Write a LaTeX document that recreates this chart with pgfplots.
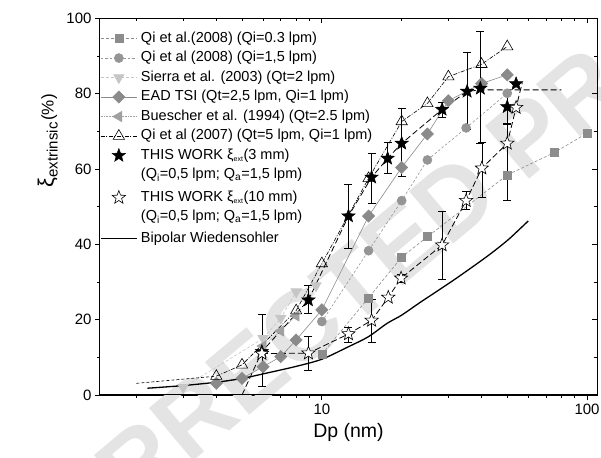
\documentclass[border=0pt]{standalone}
\usepackage{pgfplots}
\pgfplotsset{compat=1.18}
\usepackage{fontspec}
\setmainfont{Liberation Sans}
\usetikzlibrary{calc}

\definecolor{sqgray}{HTML}{8C8C8C}
\definecolor{cigray}{HTML}{959595}
\definecolor{ligray}{HTML}{C6C6C6}
\definecolor{digray}{HTML}{8A8A8A}
\definecolor{bugray}{HTML}{A0A0A0}
\definecolor{wmgray}{HTML}{E4E4E4}

% five-pointed star mark
\pgfdeclareplotmark{fivestar}{%
  \pgfpathmoveto{\pgfqpointpolar{90}{\pgfplotmarksize}}%
  \pgfpathlineto{\pgfqpointpolar{126}{0.42\pgfplotmarksize}}%
  \pgfpathlineto{\pgfqpointpolar{162}{\pgfplotmarksize}}%
  \pgfpathlineto{\pgfqpointpolar{198}{0.42\pgfplotmarksize}}%
  \pgfpathlineto{\pgfqpointpolar{234}{\pgfplotmarksize}}%
  \pgfpathlineto{\pgfqpointpolar{270}{0.42\pgfplotmarksize}}%
  \pgfpathlineto{\pgfqpointpolar{306}{\pgfplotmarksize}}%
  \pgfpathlineto{\pgfqpointpolar{342}{0.42\pgfplotmarksize}}%
  \pgfpathlineto{\pgfqpointpolar{18}{\pgfplotmarksize}}%
  \pgfpathlineto{\pgfqpointpolar{54}{0.42\pgfplotmarksize}}%
  \pgfpathclose
  \pgfusepathqfillstroke
}

\pgfplotsset{
  legimg/.style={legend image code/.code={
    \draw[mark repeat=2,mark phase=2,##1] plot coordinates {(0pt,0pt)(18pt,0pt)(36pt,0pt)};}},
  legmark/.style={legend image code/.code={
    \draw[##1] plot coordinates {(18pt,0pt)};}},
}

\begin{document}
\begin{tikzpicture}
\begin{axis}[
  name=ax,
  scale only axis, width=497pt, height=376.7pt,
  xmode=log, xmin=1.457, xmax=109,
  ymin=0, ymax=100,
  xtick={10,100}, xticklabels={10,100},
  minor xtick={2,3,4,5,6,7,8,9,20,30,40,50,60,70,80,90},
  ytick={0,20,40,60,80,100}, yticklabels={0,20,40,60,80,100},
  minor ytick={10,30,50,70,90},
  xtick pos=left, ytick pos=left, tick align=outside,
  major tick length=5pt, minor tick length=3pt,
  tick style={line width=0.9pt, black},
  axis line style={line width=1pt},
  ticklabel style={font=\fontsize{15}{15}\selectfont},
  xlabel={Dp (nm)},
  xlabel style={font=\fontsize{19.5}{20}\selectfont, yshift=-2pt},
  legend cell align=left,
  legend style={at={(rel axis cs:0,0.966)}, anchor=north west, draw=none, fill=none,
    inner sep=0pt, font=\fontsize{14.5}{16}\selectfont, row sep=5pt,
    nodes={inner sep=0.5pt, text height=10.5pt, text depth=3pt},
    /tikz/every odd column/.append style={column sep=3pt}},
  clip=false,
]
% watermark
\node[rotate=40, text=wmgray, font=\bfseries\fontsize{100}{100}\selectfont, inner sep=0pt]
  at (rel axis cs:0.575,0.37) {CORRECTED PROOF};

% y label
\node[rotate=90, anchor=center, inner sep=0pt] at (rel axis cs:-0.105,0.675)
  {{\fontsize{22}{22}\selectfont ξ}\raisebox{-4pt}{\fontsize{15}{15}\selectfont extrinsic}\,{\fontsize{17}{17}\selectfont (\%)}};

% Qi et al. (2008) Qi=0.3 lpm
\addplot[legimg, sqgray, line width=0.6pt, dash pattern=on 3pt off 2pt,
  mark=square*, mark size=4pt, mark options={solid, fill=sqgray, draw=sqgray}]
  coordinates {(10,10.8)(15,25.8)(20,36.6)(25,42.0)(50,58.4)(75,64.3)(100,69.5)};
\addlegendentry{Qi et al.(2008) (Qi=0.3 lpm)}

% Qi et al (2008) Qi=1.5 lpm
\addplot[legimg, cigray, line width=0.6pt, dash pattern=on 2.5pt off 2pt,
  mark=*, mark size=4.5pt, mark options={solid, fill=cigray, draw=cigray}]
  coordinates {(10,19.5)(15,38.3)(20,51.6)(25,62.4)(35,70.9)(50,80.1)};
\addlegendentry{Qi et al (2008) (Qi=1,5 lpm)}

% Sierra et al. (2003)
\addplot[legimg, ligray, line width=0.6pt, dash pattern=on 3pt off 2pt,
  mark=triangle*, mark size=6pt, mark options={solid, rotate=180, fill=ligray, draw=ligray}]
  coordinates {(3,2.0)(6,15)(7,20.4)(8,27.4)(9.5,29)};
\addlegendentry{Sierra et al. (2003) (Qt=2 lpm)}

% EAD TSI
\addplot[legimg, digray, line width=0.6pt,
  mark=square*, mark size=4.3pt, mark options={solid, rotate=45, fill=digray, draw=digray}]
  coordinates {(4,3.1)(5,4.4)(6,7.5)(7,10.2)(8,14.6)(10,22.6)(15,47.5)(20,60.4)
               (25,69.3)(30,78.1)(40,82.7)(50,85.0)};
\addlegendentry{EAD TSI (Qt=2,5 lpm, Qi=1 lpm)}

% Buescher et al. (1994)
\addplot[legimg, bugray, line width=0.6pt, densely dotted,
  mark=triangle*, mark size=6pt, mark options={solid, rotate=90, fill=bugray, draw=bugray}]
  coordinates {(6,13)(7,17)(8,21)};
\addlegendentry{Buescher et al. (1994) (Qt=2.5 lpm)}

% Qi et al (2007)
\addplot[forget plot, black, line width=0.6pt, dash pattern=on 3pt off 2pt]
  coordinates {(2.0,3.1)(4,5.0)};
\addplot[legimg, black, line width=0.6pt, dash pattern=on 4pt off 1.5pt on 1pt off 1.5pt,
  mark=triangle, mark size=6.5pt, mark options={solid, fill=white, draw=black, line width=0.6pt}]
  coordinates {(4,5.0)(5,8.0)(8,22.4)(10,34.9)(15,57.5)(20,72.6)(25,77.4)(30,84.5)(40,87.8)(50,92.5)};
\addlegendentry{Qi et al (2007) (Qt=5 lpm, Qi=1 lpm)}

% THIS WORK 3 mm: line
\addplot[forget plot, black, line width=0.8pt, dash pattern=on 6pt off 3pt]
  coordinates {(5,0)(5.94,11.5)(8.9,25.2)(12.6,47.5)(15.4,57.8)(17.7,62.8)(20,66.8)
               (28.4,75.8)(35.3,80.6)(40,81)(54,81)(80,81)};
% THIS WORK 10 mm: line
\addplot[forget plot, black, line width=0.8pt, dash pattern=on 6pt off 3pt]
  coordinates {(5.94,11)(8.9,11.1)(12.6,16.2)(15.4,19.8)(17.8,25.9)(19.9,31)
               (28.4,39.8)(35,51.6)(40.1,60.2)(50,66.8)(54,76.3)(57,83)};

% THIS WORK 3 mm: marks
\addplot[legmark, only marks, black, mark=fivestar, mark size=7pt,
  mark options={fill=black, draw=black, line width=0.5pt},
  error bars/.cd, y dir=both, y explicit,
  error bar style={line width=0.6pt, black},
  error mark options={rotate=90, mark size=4pt, line width=0.6pt}]
  coordinates {
  (5.94,11.5) += (0,9.9) -= (0,9.3)
  (8.9,25.2) += (0,4.0) -= (0,3.5)
  (12.6,47.5) += (0,8.4) -= (0,8.6)
  (15.4,57.8) += (0,6.4) -= (0,6.9)
  (17.7,62.8) += (0,4.2) -= (0,3.9)
  (20.0,66.8) += (0,9.3) -= (0,8.8)
  (28.4,75.8) += (0,2) -= (0,2)
  (35.3,80.6) += (0,10.4) -= (0,10)
  (39.6,81.4) += (0,15.2) -= (0,14.5)
  (50.0,76.5) += (0,3.5) -= (0,4.5)
  (54.0,82.6) += (0,0) -= (0,0)
  };
\addlegendentry{THIS WORK ξ\textsubscript{\fontsize{7}{7}\selectfont ext}(3 mm)}
\addlegendimage{empty legend}
\addlegendentry[text depth=6pt]{(Q\textsubscript{i}=0,5 lpm; Q\textsubscript{a}=1,5 lpm)}

% THIS WORK 10 mm: marks
\addplot[legmark, only marks, black, mark=fivestar, mark size=7pt,
  mark options={fill=white, draw=black, line width=0.6pt},
  error bars/.cd, y dir=both, y explicit,
  error bar style={line width=0.6pt, black},
  error mark options={rotate=90, mark size=4pt, line width=0.6pt}]
  coordinates {
  (5.94,11.0) += (0,0) -= (0,0)
  (8.9,11.1) += (0,4.4) -= (0,4.5)
  (12.6,16.2) += (0,1.9) -= (0,2.1)
  (15.4,19.8) += (0,5.6) -= (0,5.9)
  (17.8,25.9) += (0,0) -= (0,0)
  (19.9,31.0) += (0,1) -= (0,1)
  (28.4,39.8) += (0,9) -= (0,9.1)
  (35.0,51.6) += (0,2.6) -= (0,2.3)
  (40.1,60.2) += (0,7) -= (0,7.6)
  (50.0,66.8) += (0,5) -= (0,15)
  (54.0,76.3) += (0,0) -= (0,0)
  };
\addlegendentry{THIS WORK ξ\textsubscript{\fontsize{7}{7}\selectfont ext}(10 mm)}
\addlegendimage{empty legend}
\addlegendentry[text depth=5pt]{(Q\textsubscript{i}=0,5 lpm; Q\textsubscript{a}=1,5 lpm)}

% Bipolar Wiedensohler
\addplot[legimg, black, line width=1.3pt, smooth]
  coordinates {(2.2,1.8)(3,2.5)(4,3.4)(5,4.4)(6,5.6)(8,7.6)(10,9.5)(12.5,12.7)(15,15.5)
               (17.6,19)(20,21.2)(23.5,24.6)(31.4,30.5)(41.8,36.7)(50,41)(56,44.2)(60,46.2)};
\addlegendentry{Bipolar Wiedensohler}
\end{axis}

% mirrored ticks on top and right, pointing inward
\begin{axis}[
  at={(ax.south west)}, anchor=south west,
  scale only axis, width=497pt, height=376.7pt,
  xmode=log, xmin=1.457, xmax=109, ymin=0, ymax=100,
  xtick={10,100}, minor xtick={2,3,4,5,6,7,8,9,20,30,40,50,60,70,80,90},
  ytick={0,20,40,60,80,100}, minor ytick={10,30,50,70,90},
  xtick pos=right, ytick pos=right, tick align=inside,
  xticklabels={}, yticklabels={},
  major tick length=5pt, minor tick length=3pt,
  tick style={line width=0.9pt, black},
  axis line style={line width=1pt},
]
\end{axis}
\pgfresetboundingbox
\path[use as bounding box] ($(ax.south west)+(-100pt,-63pt)$) rectangle ($(ax.north east)+(4pt,18.3pt)$);
\end{tikzpicture}
\end{document}
